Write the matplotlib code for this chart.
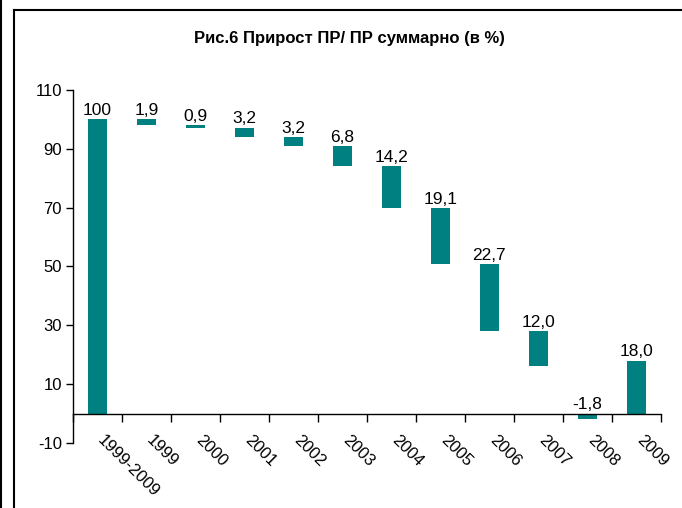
import matplotlib
matplotlib.use('Agg')
from matplotlib import pyplot as plt
from matplotlib.lines import Line2D
import matplotlib.transforms as mtransforms

plt.rcParams['font.family'] = ['Liberation Sans', 'DejaVu Sans']
plt.rcParams['axes.unicode_minus'] = False

# data
categories = ['1999-2009', '1999', '2000', '2001', '2002', '2003', '2004',
              '2005', '2006', '2007', '2008', '2009']
values = [100, 1.9, 0.9, 3.2, 3.2, 6.8, 14.2, 19.1, 22.7, 12.0, -1.8, 18.0]
# invisible base series (waterfall)
base = [0, 98.1, 97.2, 94.0, 90.8, 84.0, 69.8, 50.7, 28.0, 16.0, 0, 0]
labels = ['100', '1,9', '0,9', '3,2', '3,2', '6,8', '14,2', '19,1', '22,7',
          '12,0', '-1,8', '18,0']

teal = '#008080'

fig = plt.figure(figsize=(6.82, 5.08), dpi=100)
ax = fig.add_axes([0.107, 0.128, 0.862, 0.695])

centers = [i + 0.5 for i in range(len(categories))]
ax.bar(centers, values, bottom=base, width=0.4, color=teal)

for x, b, v, t in zip(centers, base, values, labels):
    top = b + max(v, 0)
    ax.annotate(t, (x, top), xytext=(0, 1), textcoords='offset points',
                ha='center', va='bottom', fontsize=12.5)

ax.set_xlim(0, len(categories))
ax.set_ylim(-10, 110)
ax.set_yticks(range(-10, 111, 20))
ax.tick_params(axis='y', direction='out', length=5, width=1, labelsize=12, pad=3)

for s in ['top', 'right']:
    ax.spines[s].set_visible(False)
ax.spines['bottom'].set_position(('data', 0))
ax.spines['left'].set_linewidth(1)
ax.spines['bottom'].set_linewidth(1)

# ticks at category boundaries, labels at centers
ax.set_xticks(range(0, len(categories) + 1), minor=False)
ax.set_xticklabels([])
ax.tick_params(axis='x', which='major', direction='out', length=6, width=1)
ax.set_xticks(centers, minor=True)
ax.set_xticklabels(categories, minor=True, rotation=-45, ha='left', va='top',
                   rotation_mode='anchor', fontsize=12)
ax.tick_params(axis='x', which='minor', length=0, pad=14)
offset = mtransforms.ScaledTranslation(8 / 100, 0, fig.dpi_scale_trans)
for lbl in ax.get_xticklabels(minor=True):
    lbl.set_transform(lbl.get_transform() + offset)

fig.text(0.513, 0.925, 'Рис.6 Прирост ПР/ ПР суммарно (в %)', ha='center',
         va='center', fontsize=12, fontweight='bold')

# frame lines of the chart area
fig.add_artist(Line2D([14 / 682, 14 / 682], [0, 1 - 10 / 508], color='black', lw=1.5))
fig.add_artist(Line2D([14 / 682, 1], [1 - 10 / 508, 1 - 10 / 508], color='black', lw=1.5))
fig.add_artist(Line2D([1 / 682, 1 / 682], [0, 1], color='black', lw=1.5))

fig.savefig('out.png', dpi=100)
